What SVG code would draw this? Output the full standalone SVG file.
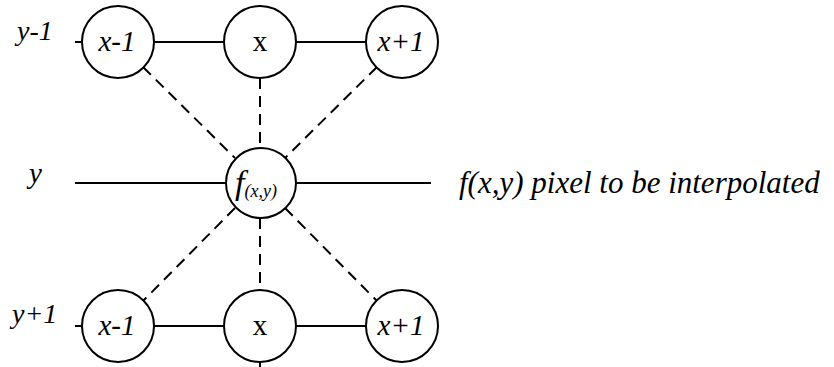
<svg xmlns="http://www.w3.org/2000/svg" width="834" height="367" viewBox="0 0 834 367" font-family="'Liberation Serif', 'Times New Roman', serif">
<style>
.solid{stroke:#000;stroke-width:2;fill:none}
.dash{stroke:#000;stroke-width:2;fill:none;stroke-dasharray:11,7}
.node{fill:#fff;stroke:#000;stroke-width:2}
.it{font-style:italic}
</style>
<rect width="834" height="367" fill="#fff"/>
<g id="connectors">
<line class="solid" x1="75" y1="42" x2="402" y2="42"/>
<line class="solid" x1="75" y1="183" x2="431" y2="183"/>
<line class="solid" x1="75" y1="326" x2="402" y2="326"/>
<line class="solid" x1="260" y1="326" x2="260" y2="367"/>
<line class="dash" x1="143" y1="67" x2="235" y2="158"/>
<line class="dash" x1="260" y1="78" x2="260" y2="148"/>
<line class="dash" x1="377" y1="67" x2="285" y2="158"/>
<line class="dash" x1="235" y1="208" x2="143" y2="301"/>
<line class="dash" x1="260" y1="218" x2="260" y2="290"/>
<line class="dash" x1="285" y1="208" x2="377" y2="301"/>
</g>
<g id="row-labels">
<text class="it" x="17" y="40" font-size="28">y-1</text>
<text class="it" x="29" y="183" font-size="29">y</text>
<text class="it" x="12" y="323" font-size="28">y+1</text>
</g>
<g id="n-top-left"><circle class="node" cx="118" cy="42" r="36"/><text class="it" x="117" y="51" font-size="29" text-anchor="middle">x-1</text></g>
<g id="n-top-mid"><circle class="node" cx="260" cy="42" r="36"/><text x="260" y="51" font-size="29" text-anchor="middle">x</text></g>
<g id="n-top-right"><circle class="node" cx="402" cy="42" r="36"/><text class="it" x="401" y="51" font-size="29" text-anchor="middle">x+1</text></g>
<g id="n-center"><circle class="node" cx="261" cy="183" r="35"/><text class="it" x="235" y="194" font-size="34">f<tspan font-size="18" dy="3">(x,y)</tspan></text></g>
<g id="n-bot-left"><circle class="node" cx="118" cy="326" r="36"/><text class="it" x="117" y="335" font-size="29" text-anchor="middle">x-1</text></g>
<g id="n-bot-mid"><circle class="node" cx="260" cy="326" r="36"/><text x="260" y="335" font-size="29" text-anchor="middle">x</text></g>
<g id="n-bot-right"><circle class="node" cx="402" cy="326" r="36"/><text class="it" x="401" y="335" font-size="29" text-anchor="middle">x+1</text></g>
<g id="caption"><text class="it" x="459" y="193" font-size="31">f(x,y) pixel to be interpolated</text></g>
</svg>
